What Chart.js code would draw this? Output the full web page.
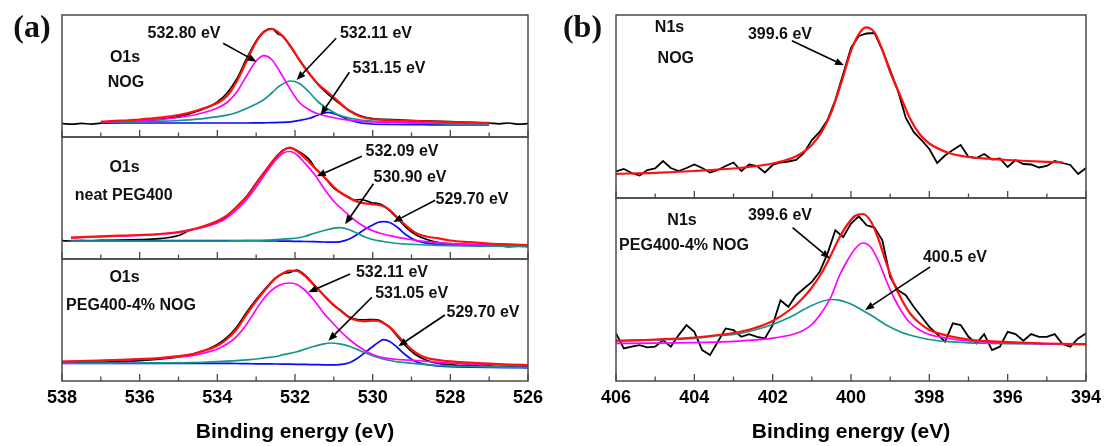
<!DOCTYPE html>
<html><head><meta charset="utf-8">
<script src="https://cdn.jsdelivr.net/npm/chart.js@4.4.1/dist/chart.umd.min.js"></script>
<style>
html,body{margin:0;padding:0;background:#fff}
body{width:1104px;height:446px;overflow:hidden;position:relative;font-family:'Liberation Sans',Arial,Helvetica,sans-serif}
.box{position:absolute}
.box canvas{display:block}
.lbl{position:absolute;font-weight:bold;font-size:16px;line-height:16px;white-space:nowrap;transform:translate(-50%,-50%);color:#111;z-index:5}
.pl{position:absolute;font-family:'Liberation Serif','Times New Roman',serif;font-weight:bold;font-size:32px;line-height:32px;white-space:nowrap;transform:translate(-50%,-50%);color:#111;z-index:5}
</style></head><body>
<script>
// ---------- DATA (intensity = arbitrary units) ----------
const axisTitle = 'Binding energy (eV)';
const majorA = [538,536,534,532,530,528,526];
const minorA = [537,535,533,531,529,527];
const majorB = [406,404,402,400,398,396,394];
const minorB = [405,403,401,399,397,395];

// (a) O1s, NOG
const E_a1 = [537,536.5,536,535.5,535,534.5,534,533.75,533.5,533.25,533,532.8,532.6,532.4,532.11,531.9,531.65,531.4,531.15,530.9,530.6,530.3,530,529.5,529,528.5,528,527.5,527];
const red_a1 = [15.5,16.3,17.5,19.3,22,26.8,34,41,55.5,75.5,95.1,105,108,103.9,90.6,77.7,64.1,52.8,44.5,36.2,26.2,20.3,18,16.7,16.2,15.5,14.8,14.4,14.1];
const magenta_a1 = [15,15.5,16.3,17.5,19.5,23,29,34.5,45,61,76,81.3,77.5,66,47,35,27.5,23,20.5,18.5,16.8,15.7,15,14.6,14.3,14,13.8,13.6,13.5];
const teal_a1 = [14.5,14.8,15.2,15.8,16.5,17.8,20.3,21.8,24.5,28.5,33,37.5,44,51,56,53.7,45.5,35,28,22.5,19,17,16,14.8,14.2,13.5,13,12.8,12.6];
const blue_a1 = [14,14,14,14,14,14,14,14,14,14,14.1,14.2,14.3,14.6,15.2,16.5,18.5,22,24.7,22,17,14,13,12.5,12.3,12.2,12,12,12];
const blackE_a1 = [538,537.75,537.5,537.25,537,536.5,536,535.5,535,534.5,534,533.75,533.5,533.25,533,532.8,532.6,532.45,532.3,532.11,531.9,531.65,531.4,531.15,530.9,530.6,530.3,530,529.5,529,528.5,528,527.5,527,526.75,526.5,526.25,526];
const black_a1 = [13.5,12.8,13.6,12.9,13.8,14.5,15.8,17.6,20.5,26,35,44,58,78,96,105.5,108.5,103.5,100.5,90,78,64.5,52,43,35,26.5,21,18.5,17.5,16.5,15.8,15.3,14.6,14,13.2,14,12.8,13.4];

// (a) O1s, neat PEG400
const E_a2 = [537.77,537.5,537,536.5,536,535.5,535,534.5,534,533.75,533.5,533.25,533,532.75,532.5,532.3,532.13,531.95,531.75,531.5,531.25,531,530.85,530.6,530.4,530.2,530,529.85,529.73,529.55,529.35,529.15,528.9,528.6,528.3,528,527.5,527,526.5,526];
const red_a2 = [21.3,21.8,22.6,23.3,24,25,27,31,38,43.7,52,62,75.3,88.7,101.3,108.7,111.3,108,101.3,91.3,82,72,67,61,57.3,55.7,54.7,54,52.7,48.7,41,33.7,26.3,22.3,20.7,18.5,16.8,15.5,14.7,14];
const magenta_a2 = [21.3,21.6,22.3,23,23.7,24.7,26.3,30.5,36,41.3,49.3,59.3,72,86,98.7,106,107.5,104.3,96,84.7,70.3,57.7,52,43.3,37,32,28.3,26.3,25,23.3,21.7,20.3,18.7,17.3,16.3,15.3,14.6,14.2,13.9,13.7];
const teal_a2 = [17.8,17.8,17.8,17.8,17.8,17.8,17.8,17.8,17.9,18,18.1,18.3,18.3,18.8,19.3,19.8,20.3,21,22.5,25.8,28.5,30.8,31.3,29.3,25.8,22,19.5,18.3,17.5,16.5,15.5,15,14.5,14,13.6,13.3,13,12.8,12.6,12.5];
const blue_a2 = [18.3,18.3,18.3,18.3,18.3,18.3,18.3,18.3,18.3,18.3,18.3,18.3,18.3,18.2,18,17.9,17.8,17.6,17.5,17.3,17,16.8,17.2,20,24.5,29.8,34,36.7,37.3,36.3,31.3,24.5,18.7,15.8,14.7,14,13.5,13.2,13,12.8];
const blackE_a2 = [538,537.75,537.5,537.25,537,536.5,536,535.5,535.25,535,534.75,534.5,534.25,534,533.75,533.5,533.25,533,532.75,532.5,532.3,532.13,531.95,531.75,531.6,531.5,531.25,531,530.85,530.6,530.45,530.3,530.15,530,529.85,529.73,529.55,529.35,529.15,528.9,528.6,528.3,528,527.5,527,526.75,526.5,526.25,526];
const black_a2 = [18.3,18,18.5,18,18.6,18.8,19.3,20.3,21.5,23.5,28,30.8,33.5,37,43,52.5,62.5,76,89,101.5,109,111,108.5,103.5,98,92,82,71,67,61.5,59,59.5,58,56,55.5,53.5,48,40,32,24.5,19.5,16.5,15.3,14.2,13,13.3,12.3,12.8,12.4];

// (a) O1s, PEG400-4% NOG
const E_a3 = [538,537.5,537,536.5,536,535.5,535,534.7,534.5,534,533.75,533.5,533.25,533,532.75,532.5,532.3,532.13,531.95,531.75,531.5,531.25,531.1,530.85,530.6,530.4,530.2,530,529.85,529.73,529.55,529.35,529.15,528.9,528.6,528.3,528,527.5,527,526.5,526];
const red_a3 = [19.5,20,20.5,21.2,22,23,24.8,26.3,28.5,35.3,42,52,66.5,80,92,102.7,108,110.3,110,105.3,95.3,85.3,79.5,71,63.5,60.5,59.7,60.3,60,58,53.7,45.3,37,28.7,23,21,19.7,18.3,17.3,16.5,16];
const magenta_a3 = [19.3,19.8,20.3,21,21.7,22.6,24,25,26.5,32,37,44.7,56.5,71.5,85,93.7,97.2,98,96.5,91,80.3,67.3,61,50.5,41.5,35.5,30.5,26.5,24.5,23.3,22.3,21.5,21,20.5,19.6,18.7,17.9,17,16.3,15.8,15.4];
const teal_a3 = [17.9,17.9,17.9,18,18,18.1,18.2,18.3,18.5,19.3,19.8,20.4,21.2,22,23.3,24.5,26.3,27.6,29.3,31.7,34.7,37.2,38,37.1,34.7,31.6,28.2,25.3,23.5,22,20.5,19.2,18.3,17.3,16.3,15.5,15,14.5,14.1,13.8,13.6];
const blue_a3 = [17.7,17.7,17.7,17.7,17.7,17.7,17.7,17.7,17.7,17.7,17.6,17.5,17.3,17.2,17.1,17,16.9,16.8,16.7,16.6,16.4,16.2,16.1,16.4,18.3,22.5,28.5,34.5,38.7,41.3,39.3,33,26,19.5,16.3,15,14.3,13.8,13.5,13.3,13.2];
const blackE_a3 = [538,537.5,537,536.5,536,535.5,535,534.75,534.5,534.25,534,533.75,533.5,533.25,533,532.75,532.5,532.3,532.13,532.05,531.95,531.75,531.5,531.25,531,530.85,530.6,530.4,530.2,530,529.85,529.73,529.55,529.35,529.15,528.9,528.6,528.3,528,527.75,527.5,527.25,527,526.75,526.5,526.25,526];
const black_a3 = [18.2,18.5,18.8,19.3,20.3,21.8,24,26,28.5,31.8,36.5,43.5,54,68.5,81.5,93,103,107.5,108.5,110,111,106,96,85.5,75.5,71.5,64,61.5,61.2,61.5,61,58.5,53,44,35,26.5,20.5,17.5,16.5,15.5,15.8,14.8,15.2,14.3,14.7,13.8,14.2];

// (b) N1s, NOG
const E_b1 = [406,405,404,403,402.5,402,401.5,401.25,401,400.75,400.5,400.25,400,399.8,399.62,399.4,399.2,399,398.75,398.5,398.25,398,397.5,397,396.5,396,395.5,395,394.6];
const red_b1 = [24.2,25.2,27,29.5,31.5,34.5,40,45,53,66,86,115,147,164,170.6,165.5,148,126,103,80,64,54.5,45,41,39.3,38,37,36.2,35.7];
const blackE_b = [406,405.8,405.6,405.4,405.2,405,404.8,404.6,404.4,404.2,404,403.8,403.6,403.4,403.2,403,402.8,402.6,402.4,402.2,402,401.8,401.6,401.4,401.2,401,400.8,400.6,400.4,400.2,400,399.8,399.6,399.4,399.2,399,398.8,398.6,398.4,398.2,398,397.8,397.6,397.4,397.2,397,396.8,396.6,396.4,396.2,396,395.8,395.6,395.4,395.2,395,394.8,394.6,394.4,394.2,394];
const black_b1 = [26.5,29,25,22.5,28,29.5,37,30,27,30,33.5,30,25.5,28,32,35.5,27,33.5,32,25.5,33,35.5,36.5,38,45,58,66,78,98,124,150,162,164.5,165,148,128,107,80,66,58,49,35,42.5,48,53,41,40,44,38.5,39.5,31,38,34,33.5,30.5,32,37,35,33,24,30];

// (b) N1s, PEG400-4% NOG
const E_b2 = [406,405,404,403.5,403,402.5,402,401.5,401.25,401,400.75,400.5,400.3,400.1,399.9,399.7,399.5,399.3,399.1,398.9,398.7,398.5,398.25,398,397.5,397,396.5,396,395,394];
const red_b2 = [40.3,41.5,43.5,45.5,48,52.5,60,73,82,93.5,108,127,143,156,165,167,160,142,118,97,81,68,58,51,45,41.5,39.8,38.8,37.5,36.8];
const magenta_b2 = [37.6,37.9,38.4,38.9,39.6,40.8,42.8,46.5,50,56.5,68.5,85,105,120,132,138,134,120,100.5,83,69,58.5,51,46.5,42.5,40,38.8,38,37.2,36.6];
const teal_b2 = [40,41,42.6,44.9,46.5,50.5,56.5,65,70.5,75.5,79.5,81.5,80.8,78.5,75,70.5,66,61,56,52,48.5,46,43.5,41.5,39.3,38.2,37.7,37.3,36.9,36.6];
const black_b2 = [47.6,32.6,34.3,35.9,33.6,34.3,40.9,34.3,45.9,55.9,49.2,30.9,25.9,39.3,52.6,50.9,44.2,46.9,44.2,42.6,55.9,80.8,74.2,85.8,92.5,99.1,109.1,127.4,150.7,144,157.4,164.7,155.7,153.4,140.7,104,90.8,85.8,74.2,64.2,54.2,46.9,39.3,57.6,55.9,44.2,37.6,46.9,30.9,34.3,49.2,46.9,40.3,46.9,44.2,44.2,46.9,36.9,34.3,42.6,47.6];

// annotation arrows in data units: [E_from, I_from, E_tip, I_tip]
const arrows_a1 = [[533.85,93.7,532.99,75.3],[530.94,98.7,531.96,57],[530.60,64.7,531.34,22]];
const arrows_a2 = [[530.28,102.7,531.44,82.7],[529.98,75.3,530.71,34.7],[528.39,58.7,529.47,37]];
const arrows_a3 = [[530.58,107,531.66,88.7],[530.02,83.7,531.14,40.3],[528.14,66,529.34,34.7]];
const arrows_b1 = [[401.51,157.2,400.18,132.7]];
const arrows_b2 = [[401.49,153.4,400.54,122.4],[397.98,114.1,399.64,70.9]];

// text labels: [text, centerX, centerY]
const textLabels = [
  ['O1s',125,57],['NOG',126,82],['532.80 eV',184,32.5],['532.11 eV',376,33.3],['531.15 eV',389,68.3],
  ['O1s',124.5,166.8],['neat PEG400',123.7,195],['532.09 eV',402,151],['530.90 eV',410,177],['529.70 eV',472,198.7],
  ['O1s',124.5,276.7],['PEG400-4% NOG',131,305],['532.11 eV',392,272.3],['531.05 eV',411.7,293.3],['529.70 eV',483,311.7],
  ['N1s',669.5,27],['NOG',675.8,57.6],['399.6 eV',780,33.5],
  ['N1s',682,220.3],['PEG400-4% NOG',684,245.3],['399.6 eV',780,215.3],['400.5 eV',955,256.9]
];
const panelLetters = [['(a)',32,26.4],['(b)',582.5,26.4]];

// ---------- STYLE ----------
const C = {red:'#ff1010', magenta:'#ff00ff', teal:'#12968c', blue:'#0a0aff', black:'#000000'};
Chart.defaults.font.family = "'Liberation Sans', Arial, sans-serif";
const PAD = 24;

const framePlugin = {
  id: 'frame',
  afterDatasetsDraw(chart, args, o) {
    const ctx = chart.ctx, a = chart.chartArea, xs = chart.scales.x, ys = chart.scales.y;
    ctx.save();
    ctx.strokeStyle = '#000'; ctx.fillStyle = '#000'; ctx.lineWidth = 1.6;
    (o.arrows || []).forEach(ar => {
      const x1 = xs.getPixelForValue(ar[0]), y1 = ys.getPixelForValue(ar[1]);
      const x2 = xs.getPixelForValue(ar[2]), y2 = ys.getPixelForValue(ar[3]);
      const ang = Math.atan2(y2 - y1, x2 - x1), hl = 9, hw = 3.6;
      const bx = x2 - hl * Math.cos(ang), by = y2 - hl * Math.sin(ang);
      ctx.beginPath(); ctx.moveTo(x1, y1); ctx.lineTo(bx, by); ctx.stroke();
      ctx.beginPath(); ctx.moveTo(x2, y2);
      ctx.lineTo(bx + hw * Math.sin(ang), by - hw * Math.cos(ang));
      ctx.lineTo(bx - hw * Math.sin(ang), by + hw * Math.cos(ang));
      ctx.closePath(); ctx.fill();
    });
    ctx.strokeStyle = '#4a4a4a'; ctx.lineWidth = 1.5;
    ctx.strokeRect(a.left, a.top, a.right - a.left, a.bottom - a.top);
    ctx.lineWidth = 1.3;
    const tick = (v, len) => {
      const px = xs.getPixelForValue(v);
      ctx.beginPath(); ctx.moveTo(px, a.bottom); ctx.lineTo(px, a.bottom - len); ctx.stroke();
    };
    (o.major || []).forEach(v => tick(v, 7));
    (o.minor || []).forEach(v => tick(v, 4.5));
    ctx.restore();
  }
};

function panel(p) {
  const H = p.bottom - p.top;
  const left = p.left - PAD, top = p.top - PAD;
  const width = (p.right - p.left) + 2 * PAD;
  const height = p.axis ? 446 - top : H + 2 * PAD;
  const div = document.createElement('div');
  div.className = 'box';
  div.style.left = left + 'px'; div.style.top = top + 'px';
  div.style.width = width + 'px'; div.style.height = height + 'px';
  const cv = document.createElement('canvas');
  cv.width = width; cv.height = height;
  cv.style.width = width + 'px'; cv.style.height = height + 'px';
  div.appendChild(cv); document.body.appendChild(div);
  const xScale = {
    type: 'linear', min: p.xmin, max: p.xmax, reverse: true, display: !!p.axis,
    grid: {display: false, drawTicks: false}, border: {display: false},
    ticks: {stepSize: 2, autoSkip: false, maxRotation: 0, padding: 6, color: '#000', font: {size: 18, weight: 'bold'}},
    title: {display: !!p.axis, text: axisTitle, color: '#000', font: {size: 21, weight: 'bold'}, padding: {top: 0, bottom: 1}}
  };
  if (p.axis) xScale.afterFit = s => { s.height = 65; };
  return new Chart(cv, {
    type: 'line',
    data: {datasets: p.series.map(s => ({
      data: s.x.map((e, i) => ({x: e, y: s.y[i]})),
      borderColor: s.c, borderWidth: s.w, pointRadius: 0, fill: false,
      tension: 0, cubicInterpolationMode: s.smooth ? 'monotone' : 'default'
    }))},
    options: {
      responsive: false, animation: false, devicePixelRatio: 1,
      layout: {padding: {left: PAD, right: PAD, top: PAD, bottom: p.axis ? 0 : PAD}},
      plugins: {legend: {display: false}, tooltip: {enabled: false},
        frame: {major: p.major, minor: p.minor, arrows: p.arrows}},
      scales: {x: xScale, y: {type: 'linear', min: 0, max: H, display: false}}
    },
    plugins: [framePlugin]
  });
}

// dataset 0 is drawn on top
panel({left:62, right:528, top:15, bottom:137, xmin:526, xmax:538, major:majorA, minor:minorA, arrows:arrows_a1, series:[
  {x:E_a1, y:red_a1, c:C.red, w:2.2, smooth:true},
  {x:E_a1, y:magenta_a1, c:C.magenta, w:1.7, smooth:true},
  {x:E_a1, y:teal_a1, c:C.teal, w:1.7, smooth:true},
  {x:E_a1, y:blue_a1, c:C.blue, w:1.7, smooth:true},
  {x:blackE_a1, y:black_a1, c:C.black, w:1.7, smooth:true}]});
panel({left:62, right:528, top:137, bottom:259, xmin:526, xmax:538, major:majorA, minor:minorA, arrows:arrows_a2, series:[
  {x:E_a2, y:red_a2, c:C.red, w:2.2, smooth:true},
  {x:E_a2, y:magenta_a2, c:C.magenta, w:1.7, smooth:true},
  {x:E_a2, y:teal_a2, c:C.teal, w:1.7, smooth:true},
  {x:E_a2, y:blue_a2, c:C.blue, w:1.7, smooth:true},
  {x:blackE_a2, y:black_a2, c:C.black, w:1.7, smooth:true}]});
panel({left:62, right:528, top:259, bottom:381, axis:true, xmin:526, xmax:538, major:majorA, minor:minorA, arrows:arrows_a3, series:[
  {x:E_a3, y:red_a3, c:C.red, w:2.2, smooth:true},
  {x:E_a3, y:magenta_a3, c:C.magenta, w:1.7, smooth:true},
  {x:E_a3, y:teal_a3, c:C.teal, w:1.7, smooth:true},
  {x:E_a3, y:blue_a3, c:C.blue, w:1.7, smooth:true},
  {x:blackE_a3, y:black_a3, c:C.black, w:1.7, smooth:true}]});
panel({left:616, right:1086, top:15, bottom:198, xmin:394, xmax:406, major:majorB, minor:minorB, arrows:arrows_b1, series:[
  {x:E_b1, y:red_b1, c:C.red, w:2.2, smooth:true},
  {x:blackE_b, y:black_b1, c:C.black, w:1.8, smooth:false}]});
panel({left:616, right:1086, top:198, bottom:381, axis:true, xmin:394, xmax:406, major:majorB, minor:minorB, arrows:arrows_b2, series:[
  {x:E_b2, y:red_b2, c:C.red, w:2.2, smooth:true},
  {x:E_b2, y:magenta_b2, c:C.magenta, w:1.7, smooth:true},
  {x:E_b2, y:teal_b2, c:C.teal, w:1.7, smooth:true},
  {x:blackE_b, y:black_b2, c:C.black, w:1.8, smooth:false}]});

textLabels.forEach(([t, x, y]) => {
  const d = document.createElement('div'); d.className = 'lbl'; d.textContent = t;
  d.style.left = x + 'px'; d.style.top = y + 'px'; document.body.appendChild(d);
});
panelLetters.forEach(([t, x, y]) => {
  const d = document.createElement('div'); d.className = 'pl'; d.textContent = t;
  d.style.left = x + 'px'; d.style.top = y + 'px'; document.body.appendChild(d);
});
</script>
</body></html>
